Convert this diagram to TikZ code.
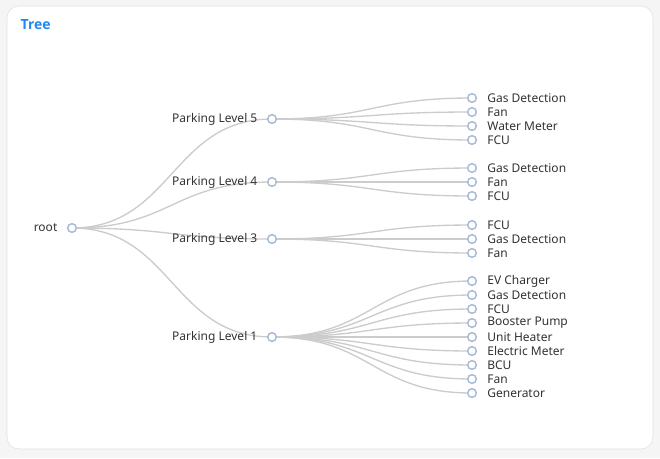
\documentclass[tikz,border=0pt]{standalone}
\usepackage{fontspec}
\setmainfont{Noto Sans}
\newfontfamily\titlefont{Open Sans}
\usetikzlibrary{positioning}
\definecolor{edgegray}{HTML}{CCCCCC}
\definecolor{dotblue}{HTML}{A9BCD6}
\definecolor{titleblue}{HTML}{1E88F5}
\tikzset{
  dot/.style={circle, draw=dotblue, fill=white, line width=1.1pt, inner sep=0pt, minimum size=6.5pt},
  link/.style={draw=edgegray, line width=1pt},
  lbl/.style={font=\fontsize{9}{10}\selectfont, text=black!80, inner sep=1pt}
}
\begin{document}
\begin{tikzpicture}[x=0.75pt, y=-0.75pt]
\useasboundingbox[fill=black!4] (0,0) rectangle (660,458);
\draw[draw=black!12, fill=white, rounded corners=9pt] (7,6) rectangle (653,449);
\node[anchor=west, text=titleblue, font=\titlefont\bfseries\fontsize{10.5}{12}\selectfont] (title) at (16,25) {Tree};

% root and levels
\coordinate (root) at (72,228);
\foreach \name/\y in {l5/119, l4/182, l3/239, l1/337}
  \coordinate (\name) at (272,\y);
\foreach \name in {l5, l4, l3, l1}
  \path[link] (root) .. controls +(100,0) and +(-100,0) .. (\name);

% leaves
\foreach \parent/\y/\txt [count=\i] in {
  l5/98/Gas Detection, l5/112/Fan, l5/126/Water Meter, l5/140/FCU,
  l4/168/Gas Detection, l4/182/Fan, l4/196/FCU,
  l3/225/FCU, l3/239/Gas Detection, l3/253/Fan,
  l1/281/EV Charger, l1/295/Gas Detection, l1/309/FCU, l1/323/Booster Pump,
  l1/337/Unit Heater, l1/351/Electric Meter, l1/365/BCU, l1/379/Fan, l1/393/Generator}
{
  \coordinate (leaf\i) at (472,\y);
  \path[link] (\parent) .. controls +(100,0) and +(-100,0) .. (leaf\i);
  \node[dot] (leafdot\i) at (leaf\i) {};
  \node[lbl, right=6.5pt of leafdot\i] (leaftxt\i) {\txt};
}

% labelled dots
\node[dot] (rootdot) at (root) {};
\node[lbl, left=6pt of rootdot] (roottxt) {root};
\foreach \name/\txt in {l5/Parking Level 5, l4/Parking Level 4, l3/Parking Level 3, l1/Parking Level 1}
{
  \node[dot] (\name dot) at (\name) {};
  \node[lbl, left=6pt of \name dot] (\name txt) {\txt};
}
\end{tikzpicture}
\end{document}
